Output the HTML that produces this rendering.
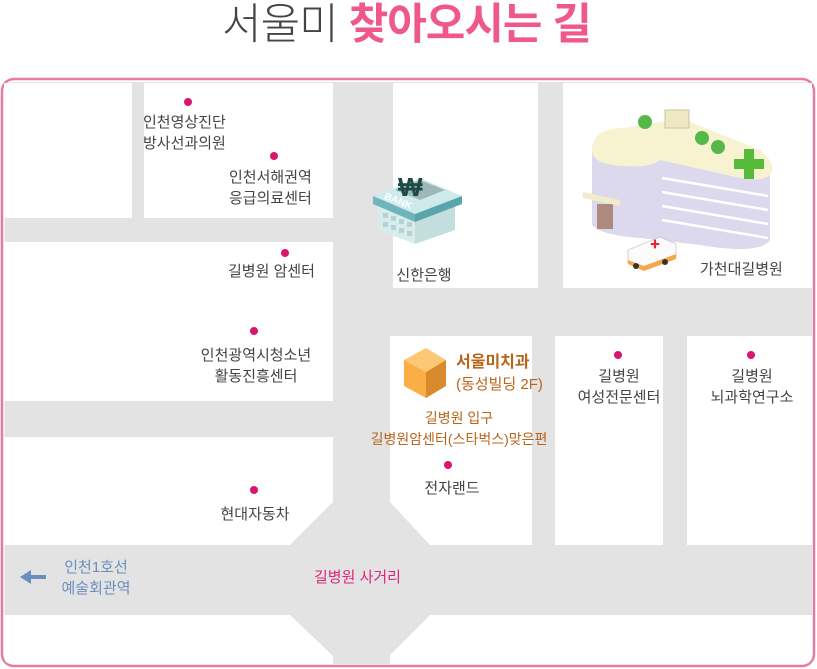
<!DOCTYPE html>
<html><head><meta charset="utf-8"><style>
body{margin:0;width:817px;height:669px;background:#fff;overflow:hidden;position:relative;font-family:"Liberation Sans","Noto Sans CJK KR","NanumGothic",sans-serif}
.t{position:absolute;font-size:15px;color:#444;line-height:21px;white-space:nowrap}
.c{text-align:center;transform:translateX(-50%)}
.d{position:absolute;width:8px;height:8px;border-radius:50%;background:#d9166f}
</style></head><body>
<div style="position:absolute;left:0;top:-2px;width:817px;text-align:center;font-size:43px;line-height:54px;letter-spacing:-1px;transform:translateX(-2px)"><span style="color:#444;font-weight:300">서울미</span> <span style="color:#f0588a;font-weight:bold">찾아오시는 길</span></div>
<svg style="position:absolute;left:0;top:0" width="817" height="669">
<rect x="2" y="79" width="812" height="587" rx="12" fill="#fff" stroke="#e57aa6" stroke-width="2.5"/>
<rect x="4.5" y="82" width="807.5" height="582" rx="9" fill="#e3e3e3"/>
<g fill="#fff">
<rect x="4" y="83" width="128" height="135"/>
<rect x="144" y="83" width="189" height="135"/>
<rect x="4" y="242" width="329" height="159"/>
<polygon points="4,437 333,437 333,502 290,545 4,545"/>
<rect x="393" y="83" width="145" height="205"/>
<rect x="563" y="83" width="249" height="205"/>
<polygon points="390,336 532,336 532,545 430,545 390,502"/>
<rect x="555" y="336" width="108" height="209"/>
<rect x="687" y="336" width="125" height="209"/>
<path d="M4,615 L290,615 L333,656 L333,664 L12,664 Q4,664 4,656Z"/>
<path d="M430,615 L812,615 L812,655 Q812,664 803,664 L390,664 L390,655Z"/>
</g>
<!-- bank -->
<g>
<polygon points="373,196 420,178 462,196 415,214" fill="#cfeaea"/>
<polygon points="378,205 415,220 415,244 378,230" fill="#d8ecec"/>
<polygon points="415,220 455,205 455,230 415,244" fill="#c4dede"/>
<polygon points="373,196 415,214 415,222 373,204" fill="#6fb5bb"/>
<polygon points="415,214 462,196 462,204 415,222" fill="#5aa5ab"/>
<polygon points="395,190 420,180 445,190 420,200" fill="#9fb7b9"/>
<text x="384" y="203" font-size="10" fill="#fff" font-weight="bold" transform="rotate(22 395 200)">BANK</text>
<text x="398" y="196" font-size="26" fill="#1d4a45" font-weight="bold">₩</text>
<g fill="#b6d3d3"><rect x="383" y="213" width="5" height="5"/><rect x="391" y="216" width="5" height="5"/><rect x="399" y="219" width="5" height="5"/><rect x="407" y="222" width="5" height="5"/><rect x="383" y="222" width="5" height="5"/><rect x="391" y="225" width="5" height="5"/><rect x="399" y="228" width="5" height="5"/><rect x="407" y="231" width="5" height="5"/></g>
</g>
<!-- hospital -->
<g>
<path d="M592,150 L592,225 Q600,235 640,238 L700,245 Q760,255 770,240 L770,175 Q770,160 740,150 L660,130 L625,130 Q592,132 592,150Z" fill="#dcd8ee"/>
<path d="M592,150 Q592,128 625,128 L660,122 L680,118 L760,150 Q778,165 770,175 Q762,182 740,178 L660,160 Q650,168 625,166 Q592,165 592,150Z" fill="#f7f2d0"/>
<g stroke="#fff" stroke-width="2.5" fill="none"><path d="M662,178 L768,196"/><path d="M662,192 L768,210"/><path d="M662,206 L768,224"/><path d="M662,220 L768,238"/></g>
<rect x="597" y="204" width="16" height="25" fill="#ae8a7e"/>
<polygon points="583,192 620,200 620,206 583,198" fill="#f1edc8"/>
<g fill="#57b84a"><circle cx="645" cy="122" r="7"/><circle cx="702" cy="138" r="7"/><circle cx="718" cy="147" r="7"/></g>
<rect x="665" y="110" width="24" height="18" fill="#eee9c3" stroke="#cbc59a"/>
<path d="M744,149 h10 v10 h10 v10 h-10 v10 h-10 v-10 h-10 v-10 h10z" fill="#56bb3a"/>
<polygon points="628,250 660,237 676,244 676,258 644,270 628,263" fill="#fbfbfb" stroke="#aaa" stroke-width=".5"/>
<polygon points="628,260 644,266 676,254 676,259 644,271 628,264" fill="#f5a74a"/>
<text x="650" y="248" font-size="10" fill="#e23" font-weight="bold">✚</text>
<circle cx="636" cy="266" r="3" fill="#333"/><circle cx="665" cy="262" r="3" fill="#333"/>
</g>
<!-- cube -->
<polygon points="404,360 426,348 446,360 426,372" fill="#fdc873"/>
<polygon points="404,360 426,372 426,398 404,386" fill="#fbae48"/>
<polygon points="426,372 446,360 446,386 426,398" fill="#d88a2d"/>
<!-- arrow -->
<path d="M46,577 H30" stroke="#6a8fbf" stroke-width="4"/>
<polygon points="20,577 31,570 31,584" fill="#6a8fbf"/>
</svg>
<div class="d" style="left:184px;top:98px"></div>
<div class="d" style="left:270px;top:152px"></div>
<div class="d" style="left:281px;top:249px"></div>
<div class="d" style="left:250px;top:327px"></div>
<div class="d" style="left:614px;top:351px"></div>
<div class="d" style="left:747px;top:351px"></div>
<div class="d" style="left:444px;top:461px"></div>
<div class="d" style="left:250px;top:486px"></div>
<div class="t" style="left:143px;top:112px">인천영상진단<br>방사선과의원</div>
<div class="t" style="left:229px;top:167px">인천서해권역<br>응급의료센터</div>
<div class="t" style="left:228px;top:261px">길병원 암센터</div>
<div class="t c" style="left:256px;top:345px">인천광역시청소년<br>활동진흥센터</div>
<div class="t c" style="left:424px;top:265px">신한은행</div>
<div class="t" style="left:700px;top:259px">가천대길병원</div>
<div class="t" style="left:456px;top:352px;font-weight:bold;font-size:16px;color:#b8651a">서울미치과</div>
<div class="t" style="left:456px;top:374px;color:#b8651a">(동성빌딩 2F)</div>
<div class="t c" style="left:459px;top:408px;color:#b8651a;font-size:14px">길병원 입구<br>길병원암센터(스타벅스)맞은편</div>
<div class="t c" style="left:452px;top:478px">전자랜드</div>
<div class="t c" style="left:619px;top:366px">길병원<br>여성전문센터</div>
<div class="t c" style="left:752px;top:366px">길병원<br>뇌과학연구소</div>
<div class="t c" style="left:255px;top:504px">현대자동차</div>
<div class="t" style="left:314px;top:567px;color:#e0237a">길병원 사거리</div>
<div class="t c" style="left:96px;top:557px;color:#6a8fbf">인천1호선<br>예술회관역</div>
</body></html>
